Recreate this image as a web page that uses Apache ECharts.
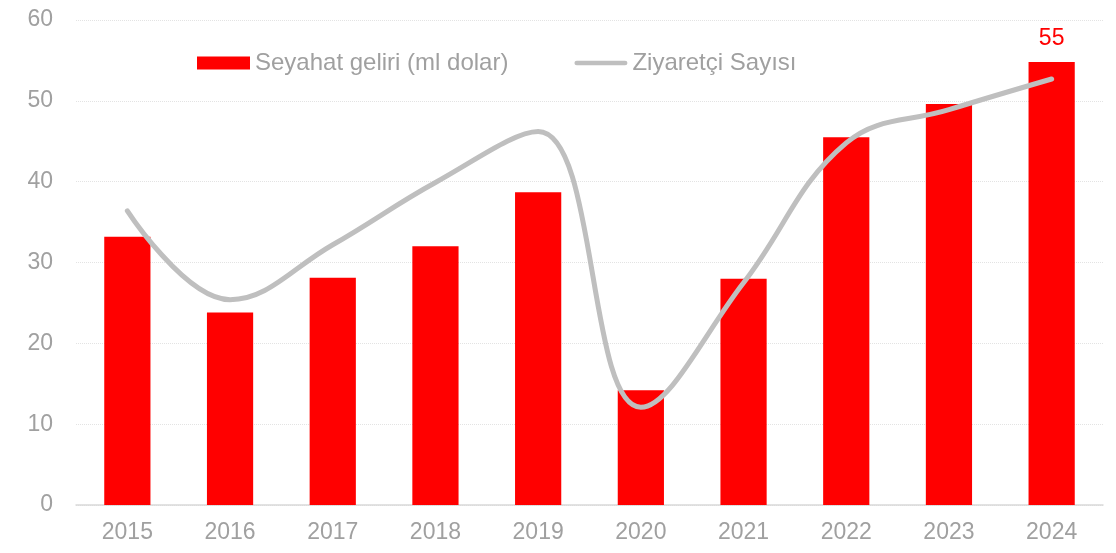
<!DOCTYPE html>
<html>
<head>
<meta charset="utf-8">
<script src="https://cdn.jsdelivr.net/npm/echarts@6/dist/echarts.min.js"></script>
<style>
  html, body { margin: 0; padding: 0; background: #fff; }
  #chart { width: 1116px; height: 553px; }
</style>
</head>
<body>
<div id="chart"></div>
<script>
const years = ['2015', '2016', '2017', '2018', '2019', '2020', '2021', '2022', '2023', '2024']
const gelir = [33.2, 23.8, 28.1, 32.0, 38.7, 14.2, 28.0, 45.5, 49.6, 54.8]
const ziyaretci = [36.4, 25.4, 32.2, 39.9, 46.2, 12.1, 27.5, 44.8, 48.9, 52.7]
const yTicks = [0, 10, 20, 30, 40, 50, 60]

const chart = echarts.init(document.getElementById('chart'))
const option = {
  animation: false,
  textStyle: { fontFamily: 'Liberation Sans, Arial, sans-serif' },
  legend: {
    left: 192,
    top: 46,
    itemGap: 66,
    itemWidth: 53,
    itemHeight: 13,
    textStyle: { color: '#a0a0a0', fontSize: 24, padding: [0, 0, 0, 0] },
    data: [
      { name: 'Seyahat geliri (ml dolar)', icon: 'rect' },
      { name: 'Ziyaretçi Sayısı', icon: 'path://M2.5,0 H53.5 A2.5,2.5 0 0 1 53.5,5 H2.5 A2.5,2.5 0 0 1 2.5,0 Z' }
    ]
  },
  grid: { left: 76, right: 13, top: 20, bottom: 48 },
  xAxis: {
    type: 'category',
    data: years,
    axisTick: { show: false },
    axisLine: { lineStyle: { color: '#d9d9d9', width: 1.5 } },
    axisLabel: { color: '#a0a0a0', fontSize: 23, margin: 16 }
  },
  yAxis: {
    type: 'value',
    min: yTicks[0],
    max: yTicks[yTicks.length - 1],
    interval: 10,
    axisLabel: { color: '#a0a0a0', fontSize: 23, margin: 23 },
    splitLine: { lineStyle: { color: '#e3e3e3', type: 'dotted', width: 1 } }
  },
  series: [
    {
      name: 'Seyahat geliri (ml dolar)',
      type: 'bar',
      data: gelir.map((v, i) => i === gelir.length - 1
        ? { value: v, label: { show: true, position: 'top', color: '#ff0000', fontSize: 23, distance: 12, formatter: () => '55' } }
        : v),
      barWidth: '45%',
      itemStyle: { color: '#ff0000' }
    },
    {
      name: 'Ziyaretçi Sayısı',
      type: 'line',
      data: ziyaretci,
      smooth: 0.4,
      symbol: 'none',
      lineStyle: { color: '#bfbfbf', width: 5, cap: 'round' },
      itemStyle: { color: '#bfbfbf' }
    }
  ]
}
chart && chart.setOption(option)
</script>
</body>
</html>
